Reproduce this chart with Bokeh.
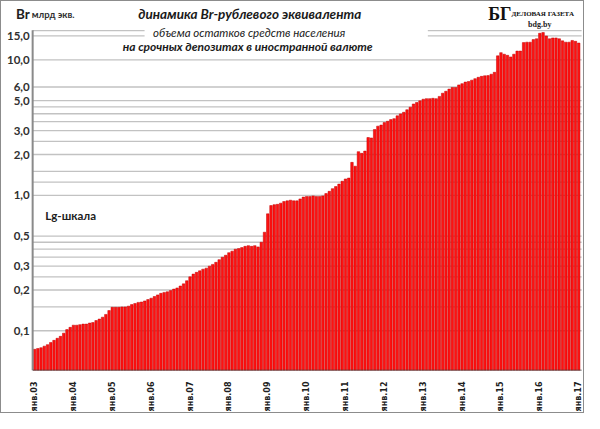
import math
from bokeh.plotting import figure
from bokeh.models import FixedTicker, Range1d, Label, BoxAnnotation, Span
from bokeh.core.properties import value
from bokeh.embed import file_html
from bokeh.resources import INLINE

# ---------------- data ----------------
year_labels = ["янв.03", "янв.04", "янв.05", "янв.06", "янв.07", "янв.08", "янв.09",
               "янв.10", "янв.11", "янв.12", "янв.13", "янв.14", "янв.15", "янв.16", "янв.17"]

v2003 = [0.073, 0.074, 0.075, 0.077, 0.079, 0.082, 0.085, 0.088, 0.091, 0.096, 0.102, 0.106]
v2004 = [0.110, 0.110, 0.111, 0.112, 0.112, 0.114, 0.115, 0.119, 0.122, 0.126, 0.132, 0.141]
v2005 = [0.149, 0.149, 0.149, 0.150, 0.150, 0.152, 0.156, 0.159, 0.162, 0.163, 0.166, 0.170]
v2006 = [0.174, 0.179, 0.184, 0.189, 0.192, 0.194, 0.198, 0.203, 0.207, 0.214, 0.222, 0.234]
v2007 = [0.250, 0.262, 0.270, 0.277, 0.285, 0.290, 0.300, 0.309, 0.320, 0.335, 0.349, 0.361]
v2008 = [0.377, 0.387, 0.400, 0.404, 0.411, 0.420, 0.425, 0.420, 0.425, 0.416, 0.450, 0.534]
v2009 = [0.730, 0.840, 0.853, 0.858, 0.875, 0.900, 0.910, 0.920, 0.910, 0.910, 0.940, 0.970]
v2010 = [0.980, 0.980, 0.990, 0.980, 0.980, 0.990, 1.030, 1.070, 1.120, 1.160, 1.210, 1.270]
v2011 = [1.32, 1.34, 1.75, 1.64, 2.10, 2.04, 2.12, 2.67, 2.65, 3.06, 3.24, 3.30]
v2012 = [3.44, 3.52, 3.62, 3.68, 3.86, 3.99, 4.10, 4.28, 4.47, 4.72, 4.84, 4.98]
v2013 = [5.12, 5.17, 5.17, 5.20, 5.17, 5.37, 5.67, 5.86, 6.08, 6.25, 6.25, 6.53]
v2014 = [6.67, 6.85, 6.92, 7.08, 7.26, 7.43, 7.55, 7.62, 7.65, 7.83, 8.09, 10.7]
v2015 = [11.3, 11.0, 10.8, 10.5, 11.0, 11.6, 11.6, 13.4, 13.5, 13.5, 14.1, 14.3]
v2016 = [15.7, 15.9, 15.0, 14.3, 14.5, 14.5, 14.3, 13.8, 13.5, 13.5, 13.9, 13.7]
v2017 = [13.3]

values = (v2003 + v2004 + v2005 + v2006 + v2007 + v2008 + v2009 + v2010 +
          v2011 + v2012 + v2013 + v2014 + v2015 + v2016 + v2017)
months = list(range(len(values)))

y_ticks = [0.1, 0.2, 0.3, 0.5, 1.0, 2.0, 3.0, 5.0, 6.3, 10.0, 15.0]
y_tick_labels = ["0,1", "0,2", "0,3", "0,5", "1,0", "2,0", "3,0", "5,0", "6,0", "10,0", "15,0"]
grid_values = [0.1, 0.15, 0.2, 0.25, 0.3, 0.35, 0.4, 0.45, 0.5, 1.0, 1.25, 1.5, 2.0, 2.5,
               3.0, 3.5, 4.0, 4.5, 5.0, 6.3, 10.0, 15.0, 16.4]

# ---------------- geometry ----------------
X0, X1 = -0.6, 168.9            # month range of the bar area
YB, YT = 0.0509, 16.55          # value range of the bar area
LB, LT = math.log10(YB), math.log10(YT)


# helpers: reference-pixel positions -> data coordinates
def rx(px):
    return X0 + (px - 32) / 564 * (X1 - X0)


def ry(py):
    return 10 ** (LT - (py - 30) / 356 * (LT - LB))


p = figure(width=584, height=413, y_axis_type="log",
           x_range=Range1d(rx(0), rx(600)), y_range=Range1d(YB, ry(0)),
           output_backend="svg", toolbar_location=None,
           min_border_left=0, min_border_right=0, min_border_top=0, min_border_bottom=41)
p.outline_line_color = None
p.background_fill_color = "white"
p.border_fill_color = "white"
p.styles = {"border": "1px solid #8c8c8c"}

# gridlines limited to the bar area
n_grid = len(grid_values)
p.segment(x0=[X0] * n_grid, y0=grid_values, x1=[X1] * n_grid, y1=grid_values,
          line_color="#c2c2c2", line_width=1.3, level="underlay")

p.vbar(x=months, top=values, bottom=0.03, width=0.78,
       fill_color="#ff1111", line_color="#c00000", line_width=0.5)

# axis lines
p.segment(x0=[X0], y0=[YB], x1=[X0], y1=[YT], line_color="#8a8a8a", line_width=2)
p.segment(x0=[X0], y0=[YB], x1=[X1], y1=[YB], line_color="#3a3a3a", line_width=1.5)

# y tick labels
p.text(x=[rx(29)] * len(y_ticks), y=y_ticks, text=y_tick_labels,
       text_align="right", text_baseline="middle", text_font=value("Lato"),
       text_font_style="bold", text_font_size="11.5px", text_color="#303030")
p.yaxis.visible = False

x_ticks = [12 * i for i in range(len(year_labels))]
p.xaxis.ticker = FixedTicker(ticks=x_ticks)
p.xaxis.major_label_overrides = {t: l for t, l in zip(x_ticks, year_labels)}
p.xaxis.major_label_orientation = math.pi / 2
p.xaxis.major_tick_line_color = None
p.xaxis.minor_tick_line_color = None
p.xaxis.axis_line_color = None
p.xaxis.major_label_text_font = "DejaVu Sans"
p.xaxis.major_label_text_font_style = "bold"
p.xaxis.major_label_text_font_size = "8px"
p.xaxis.major_label_text_color = "#202020"
p.xaxis.major_label_standoff = 5

p.xgrid.grid_line_color = None
p.ygrid.grid_line_color = None

# white box behind the title
p.add_layout(BoxAnnotation(left=rx(147), right=rx(438), bottom=ry(56), top=ry(0),
                           fill_color="white", fill_alpha=1.0, line_color=None))


def lab(text, x, y, size, font="Lato", style="normal", align="left", color="#1a1a1a"):
    p.add_layout(Label(x=rx(x), y=ry(y), text=text, text_font=font, text_font_style=style,
                       text_font_size=size, text_align=align, text_baseline="middle",
                       text_color=color))


lab("Br", 15, 13, "13.5px", style="bold", color="#202020")
lab("млрд экв.", 31, 14, "9.5px", style="bold", color="#303030")

lab("динамика Br-рублевого эквивалента", 255, 13, "13.5px", style="bold italic", align="center")
lab("объема остатков средств населения", 254.5, 32, "11.5px", style="italic", align="center")
lab("на срочных депозитах в иностранной валюте", 253, 47.5, "12px", style="bold italic",
    align="center")

lab("Lg-шкала", 45, 224, "11.5px", style="bold", color="#202020")

# publisher logo
lab("БГ", 512, 13.5, "18px", font="Liberation Serif", style="bold", align="center",
    color="#111111")
lab("ДЕЛОВАЯ ГАЗЕТА", 524, 13.5, "7px", font="Liberation Serif", style="bold", align="left",
    color="#111111")
lab("bdg.by", 553, 24, "8px", font="Liberation Serif", style="bold", align="center",
    color="#222222")

open("out.html", "w").write(file_html(p, INLINE))
